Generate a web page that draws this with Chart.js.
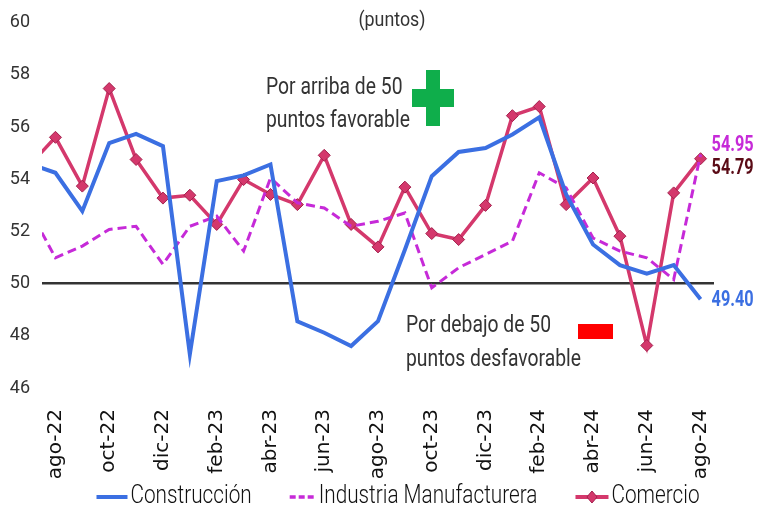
<!DOCTYPE html>
<html>
<head>
<meta charset="utf-8">
<script src="https://cdn.jsdelivr.net/npm/chart.js@4"></script>
<style>
    html, body { margin: 0; padding: 0; background: #fff; }
    #wrap { width: 767px; height: 512px; position: relative; }
</style>
</head>
<body>
<div id="wrap"><canvas id="chart" width="767" height="512"></canvas></div>
<script>
// months, first one (jul-22) only shows as the stub at the left edge
const months = ['jul-22', 'ago-22', 'sep-22', 'oct-22', 'nov-22', 'dic-22', 'ene-23', 'feb-23', 'mar-23',
    'abr-23', 'may-23', 'jun-23', 'jul-23', 'ago-23', 'sep-23', 'oct-23', 'nov-23', 'dic-23',
    'ene-24', 'feb-24', 'mar-24', 'abr-24', 'may-24', 'jun-24', 'jul-24', 'ago-24'];

const construccion = [54.6, 54.25, 52.78, 55.39, 55.74, 55.27, 47.29, 53.93, 54.15, 54.57, 48.56, 48.12, 47.61,
    48.56, 51.3, 54.12, 55.05, 55.20, 55.72, 56.38, 53.42, 51.50, 50.71, 50.38, 50.71, 49.40];
const industria = [52.9, 50.99, 51.44, 52.08, 52.20, 50.74, 52.20, 52.59, 51.25, 54.05, 53.10, 52.90, 52.20,
    52.39, 52.71, 49.84, 50.61, 51.12, 51.63, 54.25, 53.67, 51.75, 51.25, 50.99, 50.16, 54.95];
const comercio = [54.5, 55.61, 53.74, 57.48, 54.76, 53.28, 53.39, 52.27, 53.99, 53.42, 53.03, 54.92, 52.27,
    51.41, 53.70, 51.92, 51.69, 53.00, 56.44, 56.79, 53.03, 54.05, 51.82, 47.63, 53.48, 54.79];

const yTicks = [46, 48, 50, 52, 54, 56, 58, 60];
const threshold = 50;

const FONT = "Roboto, 'Liberation Sans', sans-serif";
const BLUE = '#3b6fe2';
const MAGENTA = '#c62ad8';
const PINK = '#d4386c';
const PINK_EDGE = '#a3214d';

function toPoints(values) {
    return values.map((v, i) => ({ x: i, y: v }));
}

// narrow text: the original uses a condensed face, so squeeze horizontally
function narrowText(ctx, text, x, y, font, sx, align) {
    ctx.save();
    ctx.font = font;
    ctx.textAlign = align || 'left';
    ctx.textBaseline = 'middle';
    ctx.translate(x, y);
    ctx.scale(sx, 1);
    ctx.fillText(text, 0, 0);
    const w = ctx.measureText(text).width * sx;
    ctx.restore();
    return w;
}

function diamond(ctx, cx, cy, r) {
    ctx.beginPath();
    ctx.moveTo(cx, cy - r);
    ctx.lineTo(cx + r * 0.85, cy);
    ctx.lineTo(cx, cy + r);
    ctx.lineTo(cx - r * 0.85, cy);
    ctx.closePath();
    ctx.fillStyle = PINK;
    ctx.strokeStyle = PINK_EDGE;
    ctx.lineWidth = 1;
    ctx.fill();
    ctx.stroke();
}

// end labels, the two notes and the legend
const notesPlugin = {
    id: 'notes',
    afterDatasetsDraw(chart) {
        const ctx = chart.ctx;
        const xs = chart.scales.x, ys = chart.scales.y;
        const last = months.length - 1;
        const lx = xs.getPixelForValue(last) + 11;
        const bold = "bold 22px " + FONT;

        ctx.save();
        ctx.fillStyle = MAGENTA;
        narrowText(ctx, industria[last].toFixed(2), lx, ys.getPixelForValue(industria[last]) - 9, bold, 0.74);
        ctx.fillStyle = '#5a0b16';
        narrowText(ctx, comercio[last].toFixed(2), lx, ys.getPixelForValue(comercio[last]) + 10, bold, 0.74);
        ctx.fillStyle = BLUE;
        narrowText(ctx, construccion[last].toFixed(2), lx, ys.getPixelForValue(construccion[last]) + 1, bold, 0.74);

        // notes
        const reg = "23px " + FONT;
        ctx.fillStyle = '#333';
        narrowText(ctx, 'Por arriba de 50', 266, 88, reg, 0.84);
        narrowText(ctx, 'puntos favorable', 266, 121, reg, 0.84);
        narrowText(ctx, 'Por debajo de 50', 406, 326, reg, 0.84);
        narrowText(ctx, 'puntos desfavorable', 406, 360, reg, 0.84);
        narrowText(ctx, '(puntos)', 392, 21, "21px " + FONT, 0.85, 'center');

        // green plus
        ctx.fillStyle = '#0fae4b';
        ctx.fillRect(426, 70, 14, 56);
        ctx.fillRect(412, 89, 42, 18);
        // red minus
        ctx.fillStyle = '#ff0000';
        ctx.fillRect(578, 324, 35, 15);
        ctx.restore();
    },
    afterDraw(chart) {
        const ctx = chart.ctx;
        const font = "300 25px " + FONT;
        const sx = 0.83;
        const y = 497;
        const items = [
            { text: 'Construcción', color: BLUE, width: 4, dash: [], sample: 31 },
            { text: 'Industria Manufacturera', color: MAGENTA, width: 3.5, dash: [6, 3], sample: 26 },
            { text: 'Comercio', color: PINK, width: 4, dash: [], sample: 33, marker: true }
        ];
        // measure first so the group can be centred
        ctx.save();
        ctx.font = font;
        const gap = 3, between = 38;
        let total = 0;
        items.forEach((it, i) => {
            it.tw = ctx.measureText(it.text).width * sx;
            total += it.sample + gap + it.tw + (i < items.length - 1 ? between : 0);
        });
        let x = 398 - total / 2;
        items.forEach((it) => {
            ctx.strokeStyle = it.color;
            ctx.lineWidth = it.width;
            ctx.setLineDash(it.dash);
            ctx.beginPath();
            ctx.moveTo(x, y);
            ctx.lineTo(x + it.sample, y);
            ctx.stroke();
            ctx.setLineDash([]);
            if (it.marker) diamond(ctx, x + it.sample / 2, y, 6);
            ctx.fillStyle = '#111';
            narrowText(ctx, it.text, x + it.sample + gap, y, font, sx);
            x += it.sample + gap + it.tw + between;
        });
        ctx.restore();
    }
};

const ctx = document.getElementById('chart').getContext('2d');
new Chart(ctx, {
    type: 'line',
    data: {
        datasets: [
            {
                label: 'Construcción',
                data: toPoints(construccion),
                borderColor: BLUE,
                backgroundColor: BLUE,
                borderWidth: 4,
                pointRadius: 0,
                tension: 0,
                clip: 0
            },
            {
                label: 'Industria Manufacturera',
                data: toPoints(industria),
                borderColor: MAGENTA,
                backgroundColor: MAGENTA,
                borderWidth: 3,
                borderDash: [9, 5],
                pointRadius: 0,
                tension: 0,
                clip: 0
            },
            {
                label: 'Comercio',
                data: toPoints(comercio),
                borderColor: PINK,
                backgroundColor: PINK,
                borderWidth: 3.5,
                pointStyle: 'rectRot',
                pointRadius: 6,
                pointBackgroundColor: PINK,
                pointBorderColor: PINK_EDGE,
                pointBorderWidth: 1,
                tension: 0,
                clip: 0
            }
        ]
    },
    options: {
        responsive: false,
        animation: false,
        events: [],
        layout: { padding: { top: 12, right: 53, left: 0, bottom: 30 } },
        plugins: {
            tooltip: { enabled: false },
            legend: { display: false }
        },
        scales: {
            x: {
                type: 'linear',
                min: 0.5,
                max: months.length - 0.5,
                grid: { display: false },
                border: { display: false },
                afterBuildTicks(scale) {
                    scale.ticks = months.map((m, i) => ({ value: i })).filter(t => t.value % 2 === 1);
                },
                afterFit(scale) { scale.height = 94; },
                ticks: {
                    minRotation: 90,
                    maxRotation: 90,
                    autoSkip: false,
                    padding: 13,
                    color: '#111',
                    font: { family: "'DejaVu Sans', sans-serif", size: 20 },
                    callback: (v) => months[v]
                }
            },
            y: {
                min: 46,
                max: 60,
                afterBuildTicks(scale) {
                    scale.ticks = yTicks.map(v => ({ value: v }));
                },
                afterFit(scale) { scale.width = 42; },
                grid: {
                    drawTicks: false,
                    lineWidth: 2.5,
                    color: (c) => c.tick && c.tick.value === threshold ? '#333' : 'rgba(0,0,0,0)'
                },
                border: { display: false },
                ticks: {
                    padding: 12,
                    color: '#333',
                    font: { family: FONT, size: 18 }
                }
            }
        }
    },
    plugins: [notesPlugin]
});
</script>
</body>
</html>
